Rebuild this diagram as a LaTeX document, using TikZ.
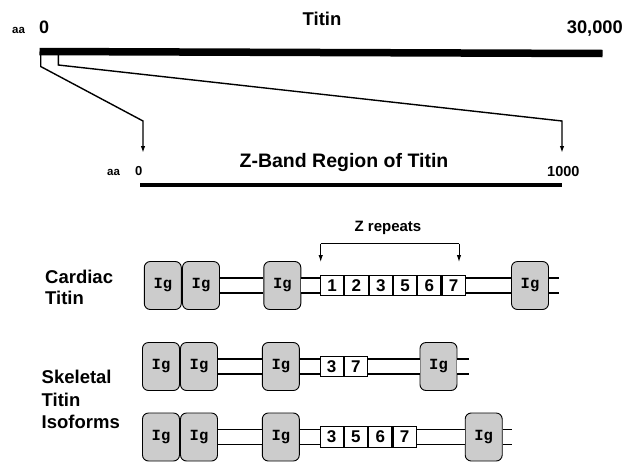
\documentclass[tikz,border=0pt]{standalone}
\usepackage{fontspec}
\setmainfont{Liberation Sans}
\newfontfamily\igfont{Liberation Mono}
\usetikzlibrary{arrows.meta}
\definecolor{igfill}{RGB}{204,204,204}
\begin{document}
\begin{tikzpicture}[x=1pt,y=-1pt,
  ig/.style={draw=black, line width=0.9pt, fill=igfill, rounded corners=6pt,
    minimum width=37pt, minimum height=48pt, inner sep=0pt,
    font=\igfont\bfseries\fontsize{15.5}{15.5}\selectfont},
  cell/.style={draw=black, line width=1.1pt, fill=white, minimum width=23.2pt,
    minimum height=20.5pt, inner sep=0pt, anchor=west,
    font=\bfseries\fontsize{17}{17}\selectfont},
  dbl/.style={draw=black, line width=1.3pt, double=white, double distance=13.7pt},
  arr/.style={draw=black, line width=1.4pt, -{Latex[length=7pt,width=4.5pt]}},
  lbl/.style={font=\bfseries\fontsize{18.5}{18.5}\selectfont, anchor=base west, inner sep=0pt},
]
\useasboundingbox (0,0) rectangle (634,461);

% ---- top titin bar ----
\node[font=\bfseries\fontsize{18.5}{18.5}\selectfont, anchor=base, inner sep=0pt] (ttl) at (322,25) {Titin};
\node[font=\bfseries\fontsize{11.5}{11.5}\selectfont, anchor=base west, inner sep=0pt] (aa1) at (12,33) {aa};
\node[font=\bfseries\fontsize{18}{18}\selectfont, anchor=base west, inner sep=0pt] (z1) at (39,33) {0};
\node[font=\bfseries\fontsize{18.3}{18.3}\selectfont, anchor=base east, inner sep=0pt] (n1) at (623,33) {30,000};
\coordinate (bl) at (39.5,51.5);
\coordinate (br) at (602.5,53.5);
\draw[line width=7.5pt] (bl) -- (br);

% ---- Z-band bar ----
\node[font=\bfseries\fontsize{19.5}{19.5}\selectfont, anchor=base, inner sep=0pt] (zt) at (344,167) {Z-Band Region of Titin};
\node[font=\bfseries\fontsize{11.5}{11.5}\selectfont, anchor=base west, inner sep=0pt] (aa2) at (107,175) {aa};
\node[font=\bfseries\fontsize{13}{13}\selectfont, anchor=base west, inner sep=0pt] (z2) at (135,175) {0};
\node[font=\bfseries\fontsize{14.5}{14.5}\selectfont, anchor=base west, inner sep=0pt] (n2) at (547,176) {1000};
\coordinate (zbl) at (140,185);
\coordinate (zbr) at (562,185);
\draw[line width=3.5pt] (zbl) -- (zbr);

% ---- expansion lines ----
\coordinate (s1) at (40.7,55);
\coordinate (s1b) at (40.7,66.5);
\coordinate (s1c) at (143,121);
\coordinate (t1) at (143,153);
\coordinate (s2) at (58.3,55);
\coordinate (s2b) at (58.3,65);
\coordinate (s2c) at (562,121);
\coordinate (t2) at (562,153);
\draw[arr] (s1) -- (s1b) -- (s1c) -- (t1);
\draw[arr] (s2) -- (s2b) -- (s2c) -- (t2);

% ---- left labels ----
\node[lbl] (lc1) at (45,283) {Cardiac};
\node[lbl] (lc2) at (45,304) {Titin};
\node[lbl] (ls1) at (41.5,383) {Skeletal};
\node[lbl] (ls2) at (41.5,406) {Titin};
\node[lbl] (ls3) at (41.5,428.5) {Isoforms};

% ---- cardiac row ----
\node[ig] (a1) at (162.8,285.5) {Ig};
\node[ig] (a2) at (201,285.5) {Ig};
\node[ig] (a3) at (282.3,285.5) {Ig};
\node[ig] (a4) at (530,285.5) {Ig};
\coordinate (ae) at (559,285.5);
\node[cell] (ar1) at (320,285.5) {1};
\node[cell] (ar2) at (ar1.east) {2};
\node[cell] (ar3) at (ar2.east) {3};
\node[cell] (ar4) at (ar3.east) {5};
\node[cell] (ar5) at (ar4.east) {6};
\node[cell] (ar6) at (ar5.east) {7};
\draw[dbl] (a2.east) -- (a3.west);
\draw[dbl] (a3.east) -- (ar1.west);
\draw[dbl] (ar6.east) -- (a4.west);
\draw[dbl] (a4.east) -- (ae);

% Z repeats bracket
\node[font=\bfseries\fontsize{15}{15}\selectfont, anchor=base, inner sep=0pt] (zr) at (388,231.5) {Z repeats};
\coordinate (kl) at (320.7,243.5);
\coordinate (kr) at (459,243.5);
\coordinate (klt) at (320.7,262);
\coordinate (krt) at (459,262);
\draw[line width=1pt] (kl) -- (kr);
\draw[arr, line width=1pt] (kl) -- (klt);
\draw[arr, line width=1pt] (kr) -- (krt);

% ---- skeletal row 1 ----
\node[ig] (b1) at (161,366.5) {Ig};
\node[ig] (b2) at (199,366.5) {Ig};
\node[ig] (b3) at (280.8,366.5) {Ig};
\node[ig] (b4) at (438.5,366.5) {Ig};
\coordinate (be) at (469,366.5);
\node[cell] (br1) at (319.5,366.5) {3};
\node[cell] (br2) at (br1.east) {7};
\draw[dbl] (b2.east) -- (b3.west);
\draw[dbl] (b3.east) -- (br1.west);
\draw[dbl] (br2.east) -- (b4.west);
\draw[dbl] (b4.east) -- (be);

% ---- skeletal row 2 ----
\node[ig] (c1) at (161,437) {Ig};
\node[ig] (c2) at (199,437) {Ig};
\node[ig] (c3) at (280.8,437) {Ig};
\node[ig] (c4) at (483.7,437) {Ig};
\coordinate (ce) at (511.7,437);
\node[cell] (cr1) at (319.5,437) {3};
\node[cell] (cr2) at (cr1.east) {5};
\node[cell] (cr3) at (cr2.east) {6};
\node[cell] (cr4) at (cr3.east) {7};
\draw[dbl] (c2.east) -- (c3.west);
\draw[dbl] (c3.east) -- (cr1.west);
\draw[dbl] (cr4.east) -- (c4.west);
\draw[dbl] (c4.east) -- (ce);
\end{tikzpicture}
\end{document}
